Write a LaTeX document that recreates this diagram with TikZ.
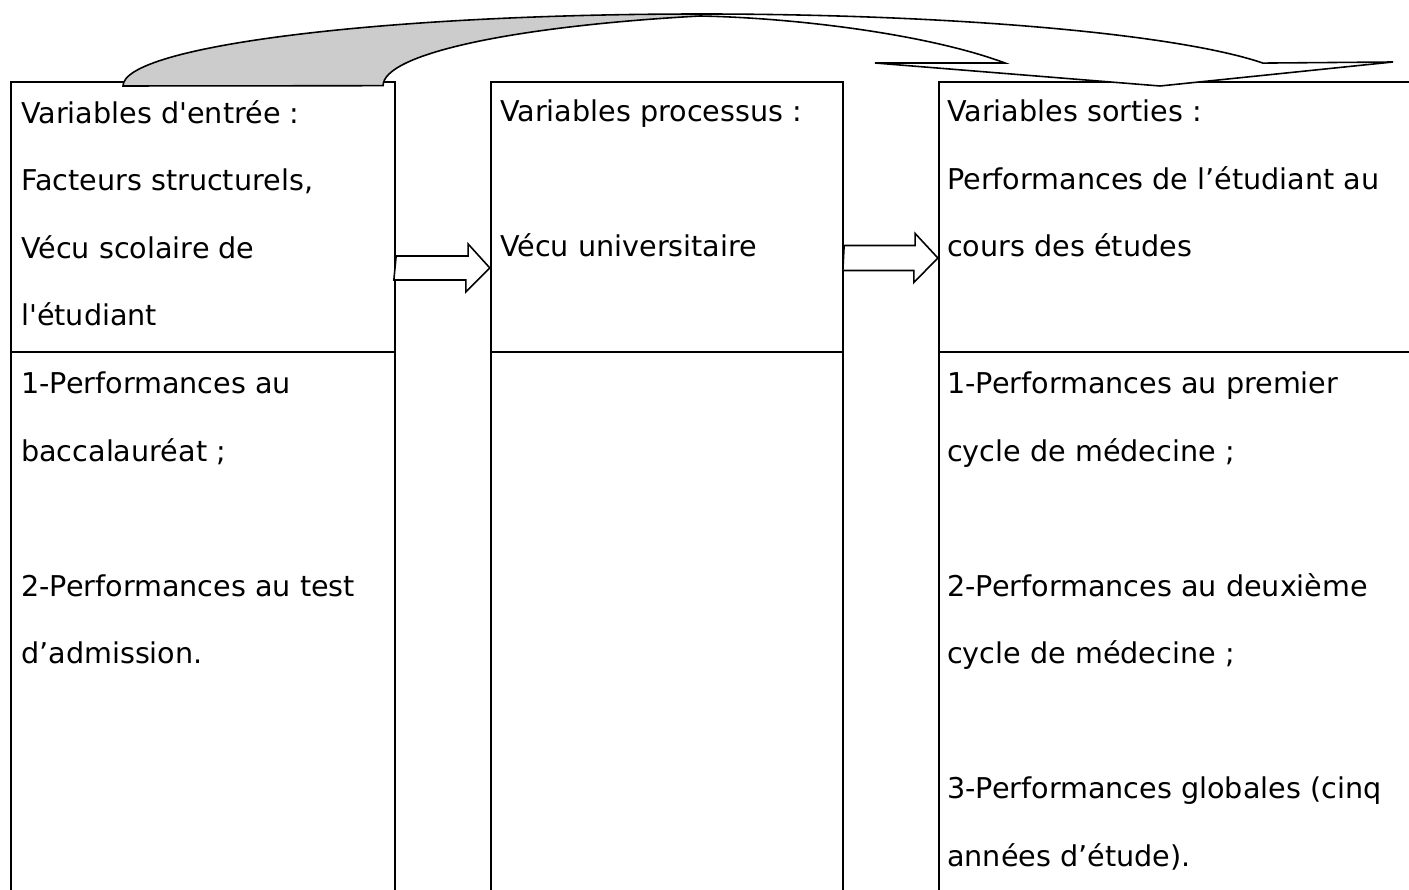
\documentclass[tikz,border=0pt]{standalone}
\usepackage{fontspec}
\setmainfont{DejaVu Sans}
\usetikzlibrary{calc,fit}
\definecolor{ribbongray}{RGB}{204,204,204}

\begin{document}
\begin{tikzpicture}[x=0.02cm, y=0.02cm,
    cell/.style={draw, line width=1.3pt, inner sep=0pt},
    celltext/.style={anchor=north west, inner sep=0pt, align=left, font=\fontsize{16.3}{38.4}\selectfont},
    blockarrow/.style={draw, line width=0.9pt, fill=white},
    ribbon/.style={draw, line width=0.9pt}
]
  \useasboundingbox (0,0) rectangle (1409,889);
  \clip (0,0) rectangle (1409,889);

  % three columns, each one split in two cells
  \node[cell, fit={(11,807) (395,537)}] (inTop) {};
  \node[cell, fit={(11,537) (395,-20)}] (inBot) {};
  \node[cell, fit={(491,807) (843,537)}] (procTop) {};
  \node[cell, fit={(491,537) (843,-20)}] (procBot) {};
  \node[cell, fit={(939,807) (1430,537)}] (outTop) {};
  \node[cell, fit={(939,537) (1430,-20)}] (outBot) {};

  \node[celltext] (inTopText) at ([shift={(11,-19)}]inTop.north west)
    {Variables d\textquotesingle entrée :\\Facteurs structurels,\\Vécu scolaire de\\l\textquotesingle étudiant};
  \node[celltext] (procTopText) at ([shift={(10,-19)}]procTop.north west)
    {Variables processus :\\[38.4pt]Vécu universitaire};
  \node[celltext] (outTopText) at ([shift={(9,-19)}]outTop.north west)
    {Variables sorties :\\Performances de l’étudiant au\\cours des études};

  \node[celltext] (inBotText) at ([shift={(11,-21)}]inBot.north west)
    {1-Performances au\\baccalauréat ;\\[38.4pt]2-Performances au test\\d’admission.};
  \node[celltext] (outBotText) at ([shift={(9,-21)}]outBot.north west)
    {1-Performances au premier\\cycle de médecine ;\\[38.4pt]2-Performances au deuxième\\cycle de médecine ;\\[38.4pt]3-Performances globales (cinq\\années d’étude).};

  % block arrows between the columns
  \draw[blockarrow] (inTop.east |- 0,621) ++(0,12) -- ++(72,0) -- ++(0,12)
    -- (procTop.west |- 0,621) -- ++(-24,-24) -- ++(0,12) -- ++(-72,0) -- cycle;
  \draw[blockarrow] (procTop.east |- 0,631) ++(0,12.5) -- ++(71,0) -- ++(0,12)
    -- (outTop.west |- 0,631) -- ++(-24,-24.5) -- ++(0,12) -- ++(-71,0) -- cycle;

  % curved ribbon arrow over the top: back side, then front side with head
  \draw[ribbon, fill=ribbongray] (123,803)
    arc[start angle=180, end angle=90, x radius=11.54cm, y radius=1.44cm]
    -- (700,873)
    arc[start angle=109.6, end angle=180, x radius=9.54cm, y radius=1.48cm]
    -- cycle;
  \draw[ribbon, fill=white] (700,875)
    arc[start angle=90, end angle=20.2, x radius=12cm, y radius=1.5cm]
    -- (1393,827) -- (1160,803) -- (875,826) -- (1005,826)
    .. controls (930,854) and (800,871) .. (700,873) -- cycle;
\end{tikzpicture}
\end{document}
